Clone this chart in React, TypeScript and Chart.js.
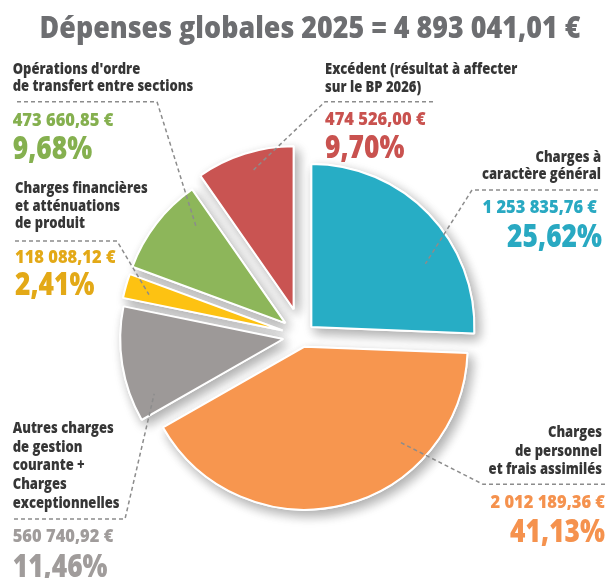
import React, { useEffect, useRef } from "react";
import { Chart, registerables } from "chart.js";

Chart.register(...registerables);

// ---------- DATA ----------
const TITLE = "Dépenses globales 2025 = 4 893 041,01 €";
const CATEGORIES = [
  "Charges à caractère général",
  "Charges de personnel et frais assimilés",
  "Autres charges de gestion courante + Charges exceptionnelles",
  "Charges financières et atténuations de produit",
  "Opérations d'ordre de transfert entre sections",
  "Excédent (résultat à affecter sur le BP 2026)",
];
const AMOUNTS = [1253835.76, 2012189.36, 560740.92, 118088.12, 473660.85, 474526.0];
const AMOUNT_LABELS = [
  "1 253 835,76 €",
  "2 012 189,36 €",
  "560 740,92 €",
  "118 088,12 €",
  "473 660,85 €",
  "474 526,00 €",
];
const PERCENT_LABELS = ["25,62%", "41,13%", "11,46%", "2,41%", "9,68%", "9,70%"];
const LABEL_LINES = [
  ["Charges à", "caractère général"],
  ["Charges", "de personnel", "et frais assimilés"],
  ["Autres charges", "de gestion", "courante +", "Charges", "exceptionnelles"],
  ["Charges financières", "et atténuations", "de produit"],
  ["Opérations d'ordre", "de transfert entre sections"],
  ["Excédent (résultat à affecter", "sur le BP 2026)"],
];

// ---------- STYLES / LAYOUT ----------
const SLICE_COLORS = ["#27adc5", "#f7964f", "#9d9998", "#fdc212", "#8db65a", "#c95452"];
const TEXT_COLORS = ["#29a9c2", "#f5924e", "#a09c9b", "#e3a917", "#85b04f", "#c9524f"];
const SLICE_OFFSETS = [13, 11, 19, 20, 21, 28];
const FONT = '"Open Sans", "DejaVu Sans", sans-serif';
const WEIGHT = "800";
const SX_LABEL = 0.84;
const SX_AMOUNT = 0.97;
const SX_PCT = 0.85;
const SX_TITLE = 0.895;

// leader: angle (deg from top, clockwise) and radius fraction of inner end point
const LEADER_ANGLE = [61, 135, 247, 285, 317, 344];
const LEADER_R = [0.8, 0.83, 0.86, 0.85, 0.8, 0.89];

type Layout = {
  align: "left" | "right";
  x: number;
  lines: number[];
  ruleY: number;
  ruleX1: number;
  ruleX2: number;
  elbowX: number;
  amountY: number;
  amountX: number;
  pctY: number;
  pctX: number;
};
const LAYOUT: Layout[] = [
  { align: "right", x: 601, lines: [161.7, 179], ruleY: 190, ruleX1: 472, ruleX2: 598, elbowX: 472, amountY: 213, amountX: 597, pctY: 246.7, pctX: 602 },
  { align: "right", x: 602, lines: [437, 456, 474], ruleY: 484.3, ruleX1: 483, ruleX2: 605, elbowX: 483, amountY: 508, amountX: 605, pctY: 541.7, pctX: 605 },
  { align: "left", x: 12.7, lines: [433, 451.7, 470, 489, 508], ruleY: 519, ruleX1: 14, ruleX2: 125, elbowX: 125, amountY: 541.7, amountX: 12.7, pctY: 576.7, pctX: 12.7 },
  { align: "left", x: 15, lines: [193, 210.7, 228], ruleY: 241, ruleX1: 15, ruleX2: 117, elbowX: 117, amountY: 263, amountX: 15, pctY: 295, pctX: 15 },
  { align: "left", x: 12.7, lines: [74, 90.7], ruleY: 101.7, ruleX1: 17, ruleX2: 157, elbowX: 157, amountY: 126, amountX: 12.7, pctY: 159, pctX: 12.7 },
  { align: "left", x: 325, lines: [74, 91.7], ruleY: 101.7, ruleX1: 325, ruleX2: 433, elbowX: 325, amountY: 125, amountX: 325, pctY: 158, pctX: 325 },
];

function drawText(
  ctx: CanvasRenderingContext2D,
  text: string,
  x: number,
  y: number,
  size: number,
  color: string,
  align: CanvasTextAlign,
  sx: number
) {
  ctx.save();
  ctx.translate(x, y);
  ctx.scale(sx, 1);
  ctx.font = `${WEIGHT} ${size}px ${FONT}`;
  ctx.fillStyle = color;
  ctx.textAlign = align;
  ctx.textBaseline = "alphabetic";
  ctx.fillText(text, 0, 0);
  ctx.restore();
}

function sliceShift(arc: any, i: number) {
  const mid = (arc.startAngle + arc.endAngle) / 2;
  return [Math.cos(mid) * SLICE_OFFSETS[i], Math.sin(mid) * SLICE_OFFSETS[i]];
}

const explodePlugin = {
  id: "explode",
  beforeDatasetsDraw(chart: any) {
    const meta = chart.getDatasetMeta(0);
    const ctx = chart.ctx as CanvasRenderingContext2D;
    meta.data.forEach((arc: any, i: number) => {
      const [dx, dy] = sliceShift(arc, i);
      ctx.save();
      ctx.translate(dx, dy);
      ctx.shadowColor = "rgba(0,0,0,0.33)";
      ctx.shadowBlur = 12;
      ctx.shadowOffsetX = 4;
      ctx.shadowOffsetY = 5;
      arc.draw(ctx);
      ctx.restore();
    });
    meta.data.forEach((arc: any, i: number) => {
      const [dx, dy] = sliceShift(arc, i);
      ctx.save();
      ctx.translate(dx, dy);
      arc.draw(ctx);
      ctx.restore();
    });
    return false;
  },
};

const labelsPlugin = {
  id: "labels",
  afterDraw(chart: any) {
    const ctx = chart.ctx as CanvasRenderingContext2D;
    const meta = chart.getDatasetMeta(0);
    drawText(ctx, TITLE, 310, 38, 30, "#6d6e71", "center", SX_TITLE);

    meta.data.forEach((arc: any, i: number) => {
      const L = LAYOUT[i];
      const [dx, dy] = sliceShift(arc, i);
      const a = ((LEADER_ANGLE[i] - 90) * Math.PI) / 180;
      const r = arc.outerRadius * LEADER_R[i];
      const ex = arc.x + dx + Math.cos(a) * r;
      const ey = arc.y + dy + Math.sin(a) * r;

      ctx.save();
      ctx.strokeStyle = "#8c8c8c";
      ctx.lineWidth = 1.5;
      ctx.setLineDash([4, 3]);
      ctx.beginPath();
      ctx.moveTo(L.elbowX === L.ruleX1 ? L.ruleX2 : L.ruleX1, L.ruleY);
      ctx.lineTo(L.elbowX, L.ruleY);
      ctx.lineTo(ex, ey);
      ctx.stroke();
      ctx.restore();

      LABEL_LINES[i].forEach((line, k) => {
        drawText(ctx, line, L.x, L.lines[k], 15.5, "#363636", L.align, SX_LABEL);
      });
      drawText(ctx, AMOUNT_LABELS[i], L.amountX, L.amountY, 17, TEXT_COLORS[i], L.align, SX_AMOUNT);
      drawText(ctx, PERCENT_LABELS[i], L.pctX, L.pctY, 31, TEXT_COLORS[i], L.align, SX_PCT);
    });
  },
};

export default function App() {
  const ref = useRef<HTMLCanvasElement | null>(null);
  useEffect(() => {
    if (!ref.current) return;
    const chart = new Chart(ref.current, {
      type: "pie",
      data: {
        labels: CATEGORIES,
        datasets: [
          {
            data: AMOUNTS,
            backgroundColor: SLICE_COLORS,
            borderColor: "#ffffff",
            borderWidth: 2,
          },
        ],
      },
      options: {
        animation: false,
        responsive: false,
        radius: 163,
        events: [],
        layout: { padding: { left: 0, right: 5, top: 94, bottom: 0 } },
        plugins: {
          legend: { display: false },
          tooltip: { enabled: false },
          title: { display: false },
        },
      } as any,
      plugins: [explodePlugin, labelsPlugin],
    });
    return () => chart.destroy();
  }, []);
  return (
    <div style={{ position: "absolute", left: 0, top: 0, width: 609, height: 578, background: "#fff" }}>
      <canvas ref={ref} width={609} height={578} />
    </div>
  );
}
